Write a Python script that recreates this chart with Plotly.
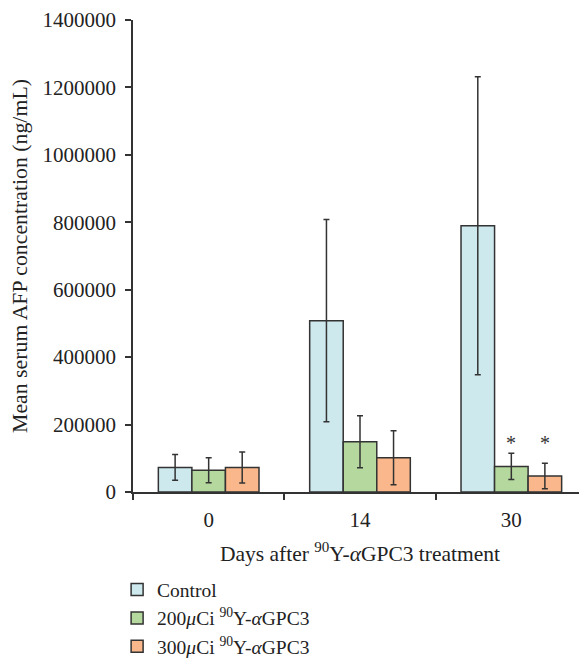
import plotly.graph_objects as go

days = ["0", "14", "30"]
series_names = [
    "Control",
    "200<i>μ</i>Ci <sup>90</sup>Y-<i>α</i>GPC3",
    "300<i>μ</i>Ci <sup>90</sup>Y-<i>α</i>GPC3",
]
control_mean = [73000, 508000, 790000]
control_err = [38500, 300000, 442000]
dose200_mean = [64500, 149000, 76000]
dose200_err = [37000, 77000, 38600]
dose300_mean = [73000, 101500, 47500]
dose300_err = [46000, 80000, 37500]
colors = ["#cde9ee", "#b4d89d", "#f9b78b"]

sig_day = "30"
sig_series = [1, 2]  # index of series marked with *
sig_y = [145000, 145000]

y_ticks = [0, 200000, 400000, 600000, 800000, 1000000, 1200000, 1400000]

means = [control_mean, dose200_mean, dose300_mean]
errs = [control_err, dose200_err, dose300_err]

FONT = "Liberation Serif, Times New Roman, serif"
LINE = "#333333"

fig = go.Figure()
for name, m, e, c in zip(series_names, means, errs, colors):
    fig.add_trace(go.Bar(
        x=days, y=m, name=name,
        marker=dict(color=c, line=dict(color=LINE, width=1.5)),
        error_y=dict(type="data", array=e, visible=True, color=LINE,
                     thickness=1.5, width=3),
    ))

# page has an 8px body margin, so the figure is offset by 8px
W, H = 579, 658
ml, mr, mt = 125, 0, 12
plot_h = 472
mb = H - mt - plot_h
plot_w = W - ml - mr
bargap = 0.335
bar_px = plot_w / len(days) * (1 - bargap) / len(series_names)
sig_idx = days.index(sig_day)
for si, yv in zip(sig_series, sig_y):
    fig.add_annotation(
        x=sig_idx, y=yv, text="*", showarrow=False,
        xshift=(si - 1) * bar_px, yanchor="middle",
        font=dict(size=20, color=LINE, family=FONT),
    )

fig.update_layout(
    width=W, height=H,
    margin=dict(l=ml, r=mr, t=mt, b=mb, autoexpand=False),
    paper_bgcolor="white", plot_bgcolor="white",
    barmode="group", bargap=bargap, bargroupgap=0,
    font=dict(family=FONT, size=20, color="#222222"),
    showlegend=True,
    legend=dict(
        orientation="v", x=-0.035, xanchor="left", y=-0.166, yanchor="top",
        font=dict(size=19.5, family=FONT), tracegroupgap=0,
        itemclick=False,
    ),
    xaxis=dict(
        type="category", automargin=False, range=[-0.5, len(days) - 0.5],
        title=dict(text="Days after <sup>90</sup>Y-<i>α</i>GPC3 treatment",
                   font=dict(size=21.5)),
        showline=True, linecolor=LINE, linewidth=1.5,
        ticks="outside", tickson="boundaries", ticklen=6, tickwidth=1.5,
        tickcolor=LINE, showgrid=False, zeroline=False,
        tickfont=dict(size=21), ticklabelstandoff=8,
    ),
    yaxis=dict(
        automargin=False,
        title=dict(text="Mean serum AFP concentration (ng/mL)",
                   font=dict(size=21.8)),
        range=[0, 1400000], tickvals=y_ticks,
        ticktext=[str(v) for v in y_ticks],
        showline=True, linecolor=LINE, linewidth=1.5,
        ticks="outside", ticklen=6, tickwidth=1.5, tickcolor=LINE,
        showgrid=False, zeroline=False, tickfont=dict(size=21),
        ticklabelstandoff=5,
    ),
)

fig.write_html("out.html")
